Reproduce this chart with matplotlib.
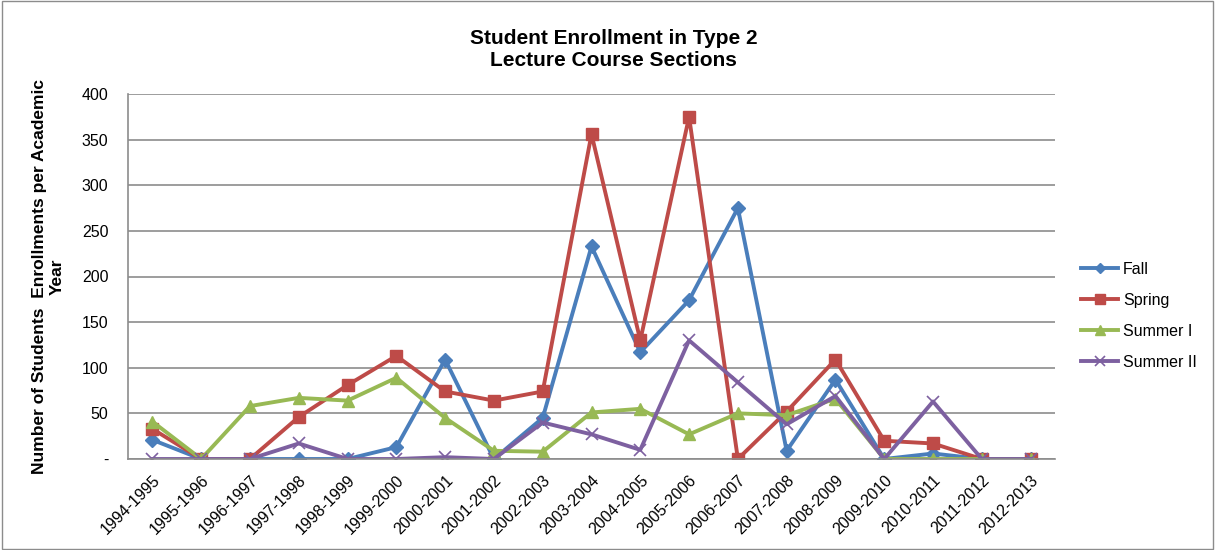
import matplotlib
matplotlib.use("Agg")
import matplotlib.pyplot as plt
from matplotlib.patches import Rectangle

plt.rcParams['font.family'] = ['Liberation Sans', 'DejaVu Sans']

years = ["1994-1995", "1995-1996", "1996-1997", "1997-1998", "1998-1999", "1999-2000",
         "2000-2001", "2001-2002", "2002-2003", "2003-2004", "2004-2005", "2005-2006",
         "2006-2007", "2007-2008", "2008-2009", "2009-2010", "2010-2011", "2011-2012",
         "2012-2013"]
fall = [21, 0, 0, 0, 0, 13, 109, 0, 45, 233, 117, 174, 275, 9, 87, 0, 6, 0, 0]
spring = [33, 0, 0, 46, 81, 113, 74, 64, 74, 356, 130, 375, 0, 52, 109, 20, 17, 0, 0]
summer1 = [41, 0, 58, 67, 64, 89, 45, 9, 8, 51, 55, 27, 50, 48, 66, 0, 0, 0, 0]
summer2 = [0, 0, 0, 17, 0, 0, 2, 0, 40, 27, 10, 130, 84, 38, 69, 0, 63, 0, 0]
yticks = [0, 50, 100, 150, 200, 250, 300, 350, 400]
ytick_labels = ["-", "50", "100", "150", "200", "250", "300", "350", "400"]

fig = plt.figure(figsize=(12.15, 5.5), dpi=100)
ax = fig.add_axes([128/1215, 1-459/550, (1055-128)/1215, (459-94)/550])

x = list(range(len(years)))
ax.plot(x, fall, color='#4A7EBB', marker='D', markersize=7, linewidth=2.8, label='Fall')
ax.plot(x, spring, color='#BE4B48', marker='s', markersize=9, linewidth=2.8, label='Spring')
ax.plot(x, summer1, color='#98B954', marker='^', markersize=9, linewidth=2.8, label='Summer I')
ax.plot(x, summer2, color='#7D60A0', marker='x', markersize=9, markeredgewidth=1.2,
        linewidth=2.8, label='Summer II')

ax.set_xlim(-0.5, len(years) - 0.5)
ax.set_ylim(0, 400)
ax.set_yticks(yticks)
ax.set_yticklabels(ytick_labels, fontsize=11.5)
ax.set_xticks(x)
ax.set_xticklabels(years, rotation=45, ha='right', rotation_mode='anchor', fontsize=11.5)
ax.grid(axis='y', color='#8C8C8C', linewidth=1.2)
ax.set_axisbelow(True)
for s in ['top', 'right']:
    ax.spines[s].set_visible(False)
for s in ['left', 'bottom']:
    ax.spines[s].set_color('#8C8C8C')
    ax.spines[s].set_linewidth(1.2)
ax.tick_params(axis='y', length=0, pad=14)
ax.tick_params(axis='x', length=0, pad=10)

ax.set_ylabel("Number of Students  Enrollments per Academic\nYear", fontsize=12.5,
              fontweight='bold', linespacing=1.3, labelpad=12)

fig.text(0.505, 1-50/550, "Student Enrollment in Type 2\nLecture Course Sections", ha='center',
         va='center', fontsize=15, fontweight='bold', linespacing=1.2)

leg = fig.legend(loc='center left', bbox_to_anchor=(1067/1215, 1-316/550), frameon=False,
                 fontsize=11.5, handlelength=2.3, handletextpad=0.3, labelspacing=1.0,
                 markerscale=0.8)

fig.add_artist(Rectangle((0.002, 0.002), 0.996, 0.996, transform=fig.transFigure,
                         fill=False, edgecolor='#8C8C8C', linewidth=1))

fig.savefig("out.png", dpi=100)
